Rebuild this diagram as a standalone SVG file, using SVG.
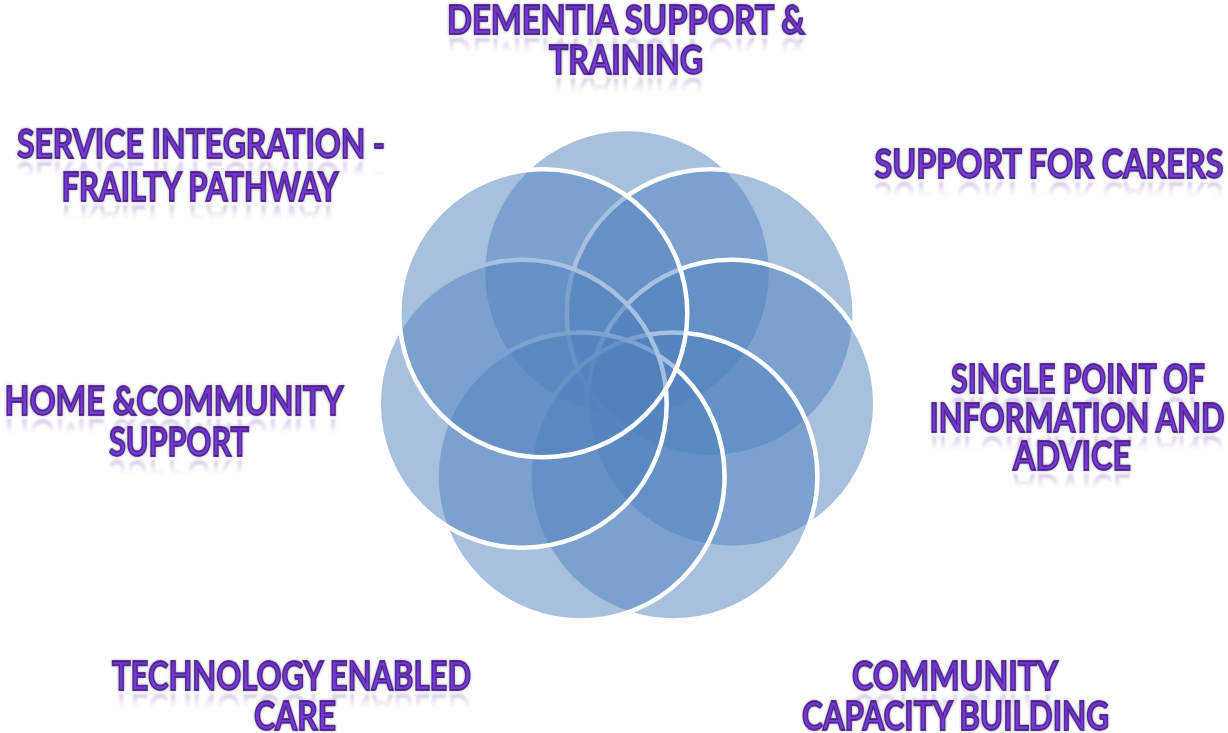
<svg xmlns="http://www.w3.org/2000/svg" xmlns:xlink="http://www.w3.org/1999/xlink" width="1228" height="733" viewBox="0 0 1228 733">
  <defs>
    <filter id="glow" x="-10%" y="-30%" width="120%" height="160%">
      <feGaussianBlur in="SourceAlpha" stdDeviation="1.6" result="b"/>
      <feFlood flood-color="#6b6b80" flood-opacity="0.55"/>
      <feComposite in2="b" operator="in" result="s"/>
      <feMerge><feMergeNode in="s"/><feMergeNode in="SourceGraphic"/></feMerge>
    </filter>
    <filter id="soft" x="-5%" y="-20%" width="110%" height="140%">
      <feGaussianBlur stdDeviation="1"/>
    </filter>
    <linearGradient id="txt" x1="0" y1="0" x2="0" y2="1">
      <stop offset="0" stop-color="#6a2fc4"/>
      <stop offset="1" stop-color="#7c3fe0"/>
    </linearGradient>
    <linearGradient id="refl" x1="0" y1="0" x2="0" y2="1">
      <stop offset="0" stop-color="#8a68b8" stop-opacity="0"/>
      <stop offset="0.52" stop-color="#8a68b8" stop-opacity="0"/>
      <stop offset="0.84" stop-color="#8a68b8" stop-opacity="0.38"/>
      <stop offset="1" stop-color="#8a68b8" stop-opacity="0.38"/>
    </linearGradient>
  </defs>
  <style>
    .c { fill: #4F81BD; fill-opacity: 0.5; stroke: #FFFFFF; stroke-width: 4.5; }
    text { font-family: Lato, "Open Sans", "Liberation Sans", sans-serif; font-weight: 700; font-size: 40px; text-anchor: middle; }
    .t { fill: url(#txt); stroke: #451a80; stroke-width: 1.8; stroke-opacity: 0.85; filter: url(#glow); }
    .r { fill: url(#refl); stroke: none; filter: url(#soft); }
  </style>
  <rect width="1228" height="733" fill="#FFFFFF"/>

  <g id="node-dementia">
    <circle class="c" cx="627" cy="273" r="144"/>
  </g>
  <g id="node-carers">
    <circle class="c" cx="710.7" cy="313.3" r="144"/>
  </g>
  <g id="node-single-point">
    <circle class="c" cx="731.3" cy="403.8" r="144"/>
  </g>
  <g id="node-community-capacity">
    <circle class="c" cx="673.4" cy="476.4" r="144"/>
  </g>
  <g id="node-technology">
    <circle class="c" cx="580.6" cy="476.4" r="144"/>
  </g>
  <g id="node-home">
    <circle class="c" cx="522.7" cy="403.8" r="144"/>
  </g>
  <g id="node-service-integration">
    <circle class="c" cx="543.3" cy="313.3" r="144"/>
  </g>

  <g id="connectors"/>

  <g id="label-reflections" class="r">
    <use xlink:href="#t1" transform="matrix(1 0 0 -1 0 72)"/>
    <use xlink:href="#t2" transform="matrix(1 0 0 -1 0 152)"/>
    <use xlink:href="#t3" transform="matrix(1 0 0 -1 0 360)"/>
    <use xlink:href="#t4" transform="matrix(1 0 0 -1 0 790)"/>
    <use xlink:href="#t5" transform="matrix(1 0 0 -1 0 868)"/>
    <use xlink:href="#t6" transform="matrix(1 0 0 -1 0 944)"/>
    <use xlink:href="#t7" transform="matrix(1 0 0 -1 0 1384)"/>
    <use xlink:href="#t9" transform="matrix(1 0 0 -1 0 1384)"/>
    <use xlink:href="#t11" transform="matrix(1 0 0 -1 0 834)"/>
    <use xlink:href="#t12" transform="matrix(1 0 0 -1 0 916)"/>
    <use xlink:href="#t13" transform="matrix(1 0 0 -1 0 320)"/>
    <use xlink:href="#t14" transform="matrix(1 0 0 -1 0 406)"/>
  </g>

  <g id="label-dementia" class="t">
    <text id="t1" x="626" y="34" textLength="358" lengthAdjust="spacingAndGlyphs">DEMENTIA SUPPORT &amp;</text>
    <text id="t2" x="626" y="74" textLength="154" lengthAdjust="spacingAndGlyphs">TRAINING</text>
  </g>
  <g id="label-carers" class="t">
    <text id="t3" x="1049" y="178" textLength="349" lengthAdjust="spacingAndGlyphs">SUPPORT FOR CARERS</text>
  </g>
  <g id="label-single-point" class="t">
    <text id="t4" x="1078" y="393" textLength="254" lengthAdjust="spacingAndGlyphs">SINGLE POINT OF</text>
    <text id="t5" x="1077" y="432" textLength="295" lengthAdjust="spacingAndGlyphs">INFORMATION AND</text>
    <text id="t6" x="1072" y="470" textLength="118" lengthAdjust="spacingAndGlyphs">ADVICE</text>
  </g>
  <g id="label-community-capacity" class="t">
    <text id="t7" x="955" y="690" textLength="206" lengthAdjust="spacingAndGlyphs">COMMUNITY</text>
    <text id="t8" x="955.5" y="730" textLength="307" lengthAdjust="spacingAndGlyphs">CAPACITY BUILDING</text>
  </g>
  <g id="label-technology" class="t">
    <text id="t9" x="291.5" y="690" textLength="359" lengthAdjust="spacingAndGlyphs">TECHNOLOGY ENABLED</text>
    <text id="t10" x="295" y="730" textLength="82" lengthAdjust="spacingAndGlyphs">CARE</text>
  </g>
  <g id="label-home" class="t">
    <text id="t11" x="174" y="415" textLength="339" lengthAdjust="spacingAndGlyphs">HOME &amp;COMMUNITY</text>
    <text id="t12" x="179" y="456" textLength="140" lengthAdjust="spacingAndGlyphs">SUPPORT</text>
  </g>
  <g id="label-service-integration" class="t">
    <text id="t13" x="201" y="158" textLength="368" lengthAdjust="spacingAndGlyphs">SERVICE INTEGRATION -</text>
    <text id="t14" x="200" y="201" textLength="277" lengthAdjust="spacingAndGlyphs">FRAILTY PATHWAY</text>
  </g>
</svg>
